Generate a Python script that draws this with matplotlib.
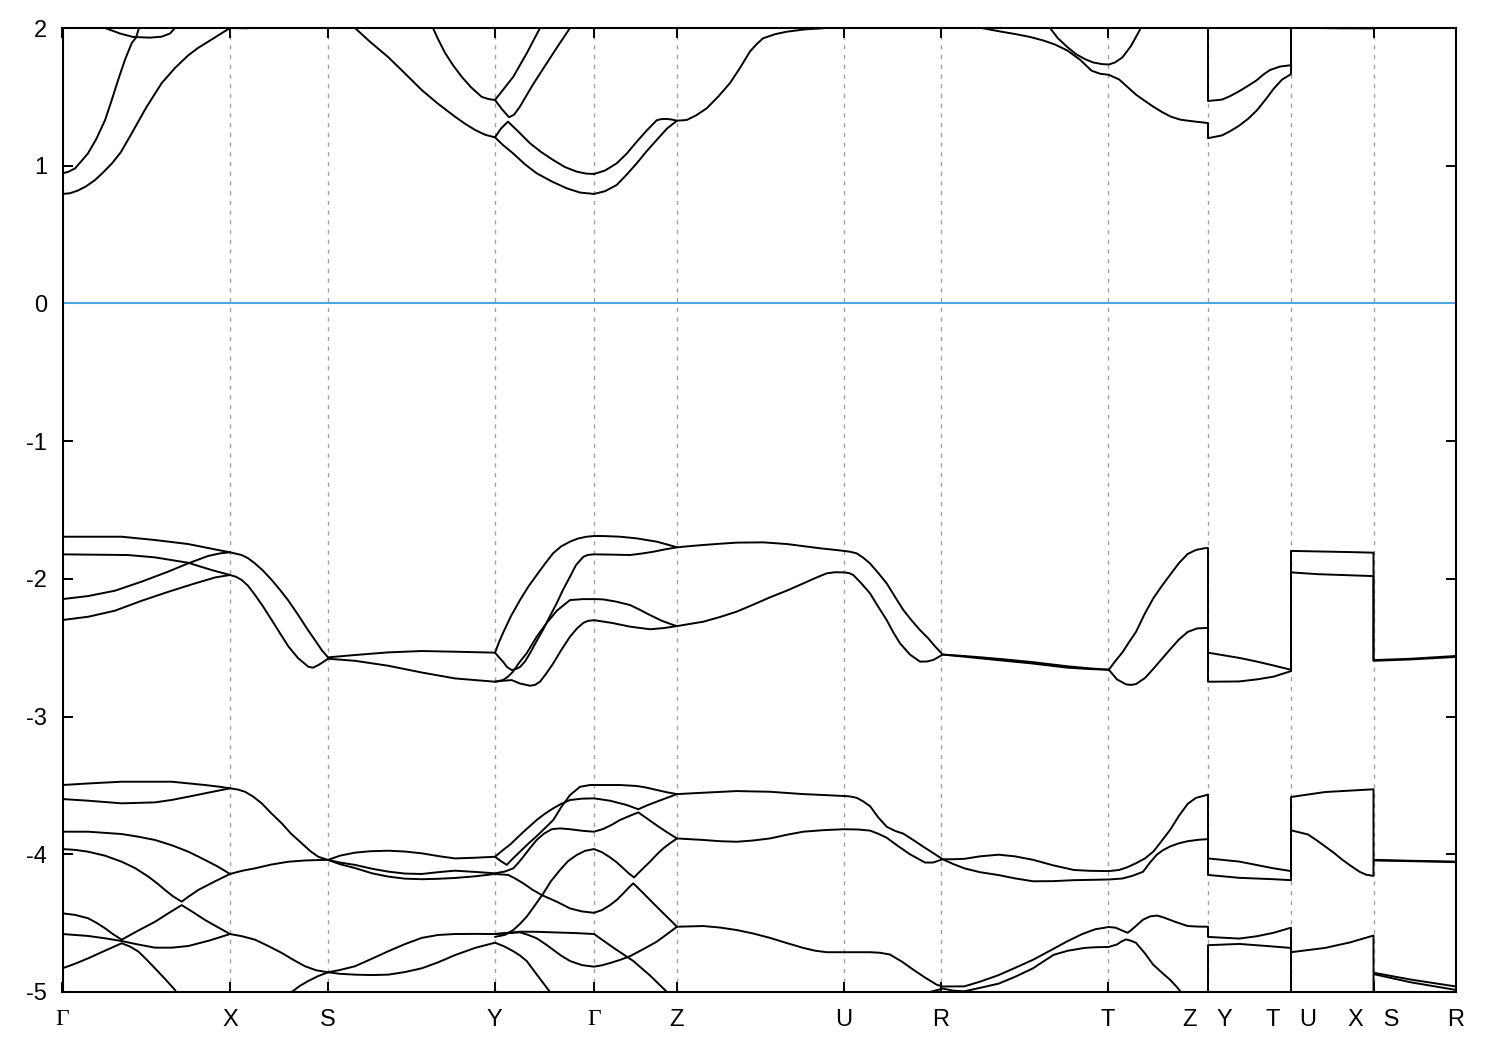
import matplotlib
matplotlib.use("Agg")
import matplotlib.pyplot as plt
import numpy as np

plt.rcParams['font.family'] = ['Liberation Sans', 'DejaVu Sans']
plt.rcParams['axes.unicode_minus'] = False

# ---------------- data ----------------
# high-symmetry points along the k-path (path coordinate, arbitrary units)
kpt_pos = [62.5, 230, 328, 494.5, 594, 677, 844, 941, 1108, 1208, 1291, 1373.5, 1456]
kpt_labels = ['Γ', 'X', 'S', 'Y', 'Γ', 'Z', 'U', 'R', 'T', 'Z   Y', 'T   U', 'X   S', 'R']
e_ticks = [-5, -4, -3, -2, -1, 0, 1, 2]
e_range = (-5, 2)

# conduction bands (k, E in eV)
cb1 = [(62.5,0.795),(70,0.80),(78,0.82),(86,0.85),(95,0.896),(103,0.95),(112,1.017),(121,1.10),(131.7,1.235),
       (146,1.42),(161.7,1.60),(175,1.71),(188,1.80),(198,1.855),(208,1.90),(219,1.95),(230,2.0),
       (248,1.998),(262,2.03),(300,2.10),(328,2.12),(345,2.05),(355,2.0),(370,1.90),(388,1.79),(405,1.67),
       (421.7,1.55),(438,1.45),(455,1.356),(465,1.305),(475,1.26),(485,1.225),(495,1.206),(503,1.15),(513,1.09),
       (525,1.01),(536.7,0.945),(552,0.885),(566.7,0.836),(580,0.805),(594,0.795),(605,0.815),
       (616.7,0.86),(626,0.93),(636.7,1.017),(646,1.10),(656.7,1.187),(667,1.27),(677,1.327),(686.7,1.332),
       (696,1.365),(706.7,1.417),(718,1.50),(730,1.60),(740,1.71),(750,1.83),(757,1.885),(763,1.925),
       (775,1.955),(786.7,1.973),(805,1.99),(823,1.998),(844,2.03),(900,2.1),(942.7,2.08),(970,2.03),(981.6,2.0),
       (1000,1.975),(1016,1.955),(1030,1.935),(1043,1.91),(1055,1.88),(1067.5,1.836),(1080,1.77),(1091.6,1.69),
       (1100,1.668),(1108.8,1.66),(1119,1.627),(1127,1.575),(1136,1.516),(1145,1.47),
       (1153,1.43),(1162,1.39),(1170.6,1.357),(1180,1.335),(1187.8,1.327),(1198,1.318),(1208,1.31),(1208,1.2),
       (1222,1.22),(1230,1.25),(1239,1.29),(1248,1.34),(1256.6,1.40),(1265,1.475),
       (1273.8,1.56),(1282,1.625),(1291,1.665),(1291,2.05),(1315,2.0),(1340,1.998),(1373.5,1.997),(1373.5,2.2),
       (1456,2.2)]
cb2 = [(62.5,0.945),(68,0.955),(75,0.98),(81,1.03),(88,1.09),(96,1.19),(105,1.33),(111,1.46),(118,1.62),
       (125,1.77),(131.7,1.89),(136,1.93),(139,2.0),(145,2.12)]
cb3 = [(62.5,2.15),(90,2.07),(105,2.0),(120,1.96),(133,1.935),(150,1.93),(161.7,1.937),(170,1.96),(175,2.0),
       (185,2.08)]
cb4 = [(400,2.15),(420,2.06),(433,2.0),(438,1.92),(445,1.82),(453,1.73),(461.7,1.646),(471,1.57),(481.7,1.50),
       (488,1.485),(495,1.477),(502,1.41),(509,1.352),(514,1.37),(520,1.43),(533,1.59),
       (546.7,1.744),(558,1.87),(570,2.0),(580,2.1)]
cb5 = [(495,1.206),(501,1.27),(508,1.32),(518,1.25),(530,1.163),(541,1.10),(553.3,1.041),(565,0.99),
       (576.7,0.957),(586,0.943),(594,0.94),(605,0.965),(616.7,1.017),(627,1.09),(636.7,1.174),(646,1.25),
       (656.7,1.33),(661,1.338),(666.7,1.34),(672,1.335),(677,1.327)]
cb6 = [(495,1.477),(504,1.56),(513.3,1.646),(527,1.82),(540,2.0),(548,2.1)]
cb7 = [(1030,2.15),(1050,2.0),(1058,1.925),(1067.5,1.861),(1076,1.81),(1084.7,1.775),(1093,1.75),
       (1101.9,1.738),(1108.8,1.735),(1115,1.75),(1122.5,1.787),(1131,1.87),
       (1139.7,1.984),(1145,2.1),(1208,2.3),(1208,1.47),(1222,1.48),(1230,1.505),(1239,1.54),(1248,1.58),
       (1256.6,1.62),(1263,1.66),(1270,1.695),(1280,1.72),(1291,1.73),(1291,2.3)]

# upper valence manifold
vb1 = [(62.5,-1.694),(121.7,-1.694),(155,-1.718),(188,-1.747),(215,-1.786),(230,-1.807),(241.7,-1.827),
       (248,-1.85),(255,-1.888),(263,-1.94),(271.7,-2.008),(280,-2.08),(288,-2.154),(298,-2.26),(308,-2.372),
       (315,-2.445),(321.7,-2.517),(328,-2.57),(355,-2.553),
       (388,-2.534),(421.7,-2.524),(455,-2.529),(495,-2.536),(499,-2.46),(503,-2.393),(511,-2.27),(520,-2.154),
       (528,-2.06),(536.7,-1.972),(545,-1.89),(553,-1.815),(561,-1.765),(570,-1.73),(578,-1.707),(586.7,-1.694),
       (594,-1.689),(603,-1.689),(620,-1.694),(636.7,-1.706),(656.7,-1.73),(667,-1.75),
       (677,-1.771),(690,-1.762),(703.3,-1.754),(720,-1.745),(736.7,-1.737),(763.3,-1.735),(786.7,-1.747),
       (803,-1.762),(820,-1.778),(833,-1.788),(844,-1.797),
       (850,-1.803),(856.7,-1.815),(863,-1.845),(870,-1.888),(878,-1.955),(886.7,-2.033),(895,-2.13),
       (903.3,-2.226),(912,-2.305),(920,-2.372),(928,-2.43),(935,-2.49),(942.7,-2.55),(960,-2.558),
       (981.5,-2.57),(1005,-2.585),(1033,-2.605),(1067.5,-2.635),(1090,-2.65),(1108.8,-2.66),(1115,-2.6),
       (1122.5,-2.533),(1129,-2.46),(1136,-2.385),(1145,-2.25),(1153.4,-2.14),(1162,-2.05),
       (1170.6,-1.966),(1179,-1.885),(1187.7,-1.819),(1196,-1.79),(1205,-1.777),(1208,-1.776),(1208,-2.536),
       (1222,-2.553),(1240,-2.575),(1256.5,-2.60),(1274,-2.63),(1291,-2.66),(1291,-1.797),(1352.7,-1.806),
       (1373.5,-1.81),(1373.5,-2.59),(1411,-2.58),(1456,-2.56)]
vb2 = [(62.5,-1.822),(128,-1.827),(155,-1.844),(188,-1.883),(211.7,-1.936),(230,-1.972),(236,-1.985),
       (241.7,-2.008),(248,-2.05),(255,-2.117),(263,-2.2),(271.7,-2.299),(280,-2.395),(288.3,-2.49),
       (298,-2.575),(308.3,-2.638),(313,-2.645),(318.3,-2.626),(323,-2.605),(328,-2.58),(355,-2.595),
       (388.3,-2.631),(421.7,-2.68),(455,-2.723),(495,-2.747),(503,-2.74),(511.7,-2.735),(520,-2.76),
       (530,-2.776),(535,-2.77),(540,-2.747),(546,-2.69),(553.3,-2.613),(561,-2.52),(570,-2.42),(577,-2.36),
       (583.3,-2.32),(588,-2.305),(594,-2.30),(612,-2.32),(630,-2.347),(650,-2.366),(663,-2.358),
       (677,-2.343),(703.3,-2.311),(720,-2.277),(736.7,-2.238),(753,-2.188),(770,-2.134),(787,-2.085),
       (803.3,-2.033),(815,-1.995),(826.7,-1.96),(835,-1.952),(844,-1.953),(849,-1.958),
       (853.3,-1.972),(861,-2.03),(870,-2.105),(878,-2.2),(886.7,-2.299),(893,-2.385),(900,-2.468),
       (910,-2.55),(920,-2.601),(927,-2.6),(933.3,-2.589),(942.7,-2.55),
       (960,-2.562),(981.5,-2.578),(1005,-2.595),(1033,-2.615),(1067.5,-2.645),(1090,-2.655),(1108.8,-2.66),
       (1117,-2.73),(1126,-2.766),(1131,-2.77),(1136,-2.764),(1145,-2.72),
       (1153,-2.656),(1162,-2.58),(1170.6,-2.508),(1179,-2.44),(1187.8,-2.385),(1197,-2.36),(1208,-2.356),
       (1208,-2.747),(1239,-2.745),(1257,-2.73),
       (1273.6,-2.71),(1291,-2.67),(1291,-1.953),(1318,-1.966),(1373.5,-1.98),(1373.5,-2.595),
       (1411,-2.585),(1456,-2.567)]
vb3 = [(62.5,-2.147),(88,-2.125),(115,-2.086),(141.7,-2.02),(168,-1.948),(188,-1.888),(208,-1.834),
       (220,-1.815),(230,-1.807)]
vb4 = [(62.5,-2.299),(88.3,-2.275),(115,-2.231),(141.7,-2.159),(168.3,-2.094),(195,-2.033),(215,-1.99),
       (230,-1.972)]
vb5 = [(495,-2.536),(499,-2.57),(503,-2.601),(507,-2.64),(511.7,-2.662),(516,-2.655),(520,-2.64),(525,-2.6),
       (530,-2.54),(536,-2.46),(543,-2.37),(550,-2.27),(556.7,-2.177),(563,-2.08),(570,-1.984),(576,-1.9),
       (583.3,-1.84),(588,-1.826),(594,-1.822),(612,-1.824),(630,-1.827),(643,-1.815),(653.3,-1.803),
       (665,-1.786),(677,-1.771)]
vb6 = [(495,-2.747),(503,-2.735),(508,-2.71),(513,-2.674),(519,-2.61),(526.7,-2.54),(536.7,-2.42),
       (546.7,-2.32),(557,-2.23),(570,-2.154),(583,-2.147),(594,-2.147),
       (603,-2.149),(616,-2.165),(630,-2.19),(640,-2.225),(650,-2.263),(662,-2.305),(673.3,-2.335),(677,-2.343)]

# lower valence manifold
wb1 = [(62.5,-3.497),(90,-3.485),(121.7,-3.473),(171.7,-3.473),(205,-3.497),(220,-3.51),(230,-3.521),
       (238,-3.53),(245,-3.546),(253,-3.58),(261.7,-3.63),(271,-3.70),
       (281.7,-3.775),(291,-3.85),(301.7,-3.92),(310,-3.975),(318.3,-4.018),(328,-4.041),(340,-4.01),
       (355,-3.988),(370,-3.978),(388.3,-3.974),(405,-3.98),(421.7,-3.993),
       (440,-4.015),(455,-4.03),(475,-4.025),(495,-4.018),(500,-4.045),(506.7,-4.077),(513,-4.03),(520,-3.981),
       (528,-3.925),(536.7,-3.868),(545,-3.81),(553.3,-3.751),(561,-3.66),(570,-3.57),
       (580,-3.51),(590,-3.497),(594,-3.497),(620,-3.497),(636.7,-3.504),(646,-3.515),(656.7,-3.533),
       (667,-3.55),(677,-3.563),
       (703.3,-3.553),(736.7,-3.541),(770,-3.546),(803.3,-3.563),(825,-3.57),(844,-3.577),(850,-3.58),
       (856.7,-3.59),(863,-3.615),(870,-3.65),(878,-3.73),
       (886.7,-3.80),(895,-3.83),(903.3,-3.85),(913,-3.895),(923.3,-3.945),(933,-3.99),(942.7,-4.036),
       (953,-4.036),(964.4,-4.033),(980,-4.015),(998.7,-4.003),(1015,-4.015),(1033,-4.04),(1053,-4.08),
       (1074,-4.114),(1090,-4.12),(1108.7,-4.122),(1119,-4.114),(1127,-4.095),(1136,-4.065),(1145,-4.03),
       (1153.4,-3.98),(1162,-3.90),(1170.5,-3.819),(1179,-3.72),
       (1187.7,-3.634),(1196,-3.59),(1205,-3.573),(1208,-3.566),(1208,-4.03),(1239.3,-4.053),(1273.6,-4.102),
       (1291,-4.122),(1291,-3.584),(1325,-3.548),(1373.5,-3.528),(1373.5,-4.04),(1411,-4.047),(1456,-4.053)]
wb2 = [(62.5,-3.599),(88.3,-3.611),(121.7,-3.63),(155,-3.623),(172,-3.605),(188.3,-3.582),(210,-3.55),
       (230,-3.521)]
wb3 = [(62.5,-3.836),(88.3,-3.836),(121.7,-3.853),(138,-3.872),(155,-3.896),(172,-3.935),(188.3,-3.981),
       (205,-4.041),(218,-4.09),(230,-4.143),
       (242,-4.12),(255,-4.102),(271,-4.075),(288.3,-4.054),(305,-4.045),(321.7,-4.041),(328,-4.041),
       (340,-4.06),(355,-4.077),(372,-4.105),(388.3,-4.126),(405,-4.14),(421.7,-4.143),
       (438,-4.13),(455,-4.119),(475,-4.128),(495,-4.138),(505,-4.125),(513.3,-4.102),(518,-4.065),
       (523.3,-4.018),(530,-3.955),(536.7,-3.896),(544,-3.85),(551.7,-3.818),(560,-3.812),(570,-3.818),
       (583,-3.83),(594,-3.836),(603.3,-3.816),(612,-3.785),(620,-3.751),(630,-3.72),(638.3,-3.696),
       (647,-3.74),(656.7,-3.79),(667,-3.84),(677,-3.885),(703.3,-3.896),
       (720,-3.905),(736.7,-3.909),(753,-3.9),(770,-3.885),(787,-3.858),(803.3,-3.836),(823,-3.825),
       (844,-3.818),(858,-3.82),(870,-3.828),(878,-3.85),(886.7,-3.88),(898,-3.94),(910,-4.0),
       (925,-4.06),(933,-4.06),(942.7,-4.036),(953,-4.07),(964.4,-4.102),(980,-4.13),(998.7,-4.151),
       (1015,-4.175),(1033,-4.196),(1053,-4.195),(1074,-4.188),(1108.7,-4.183),
       (1122.4,-4.176),(1133,-4.155),(1143,-4.127),(1150,-4.06),(1156.8,-4.003),(1163,-3.97),(1170.5,-3.942),
       (1179,-3.92),(1187.7,-3.905),(1198,-3.895),(1208,-3.89),
       (1208,-4.15),(1239.3,-4.171),(1273.6,-4.181),(1291,-4.188),(1291,-3.826),(1308,-3.856),(1316,-3.895),
       (1325,-3.942),(1334,-3.99),
       (1342.4,-4.04),(1351,-4.085),(1359.6,-4.127),(1366,-4.148),(1373.5,-4.157),(1373.5,-4.045),
       (1411,-4.05),(1456,-4.057)]
wb4 = [(62.5,-3.962),(75,-3.968),(88,-3.981),(105,-4.01),(121.7,-4.054),(135,-4.10),(148.3,-4.162),
       (157,-4.21),(165,-4.259),(173,-4.305),(181.7,-4.344),(188,-4.31),(198.3,-4.259),(214,-4.2),(230,-4.143)]
wb5 = [(328,-4.041),(340,-4.072),(355,-4.10),(372,-4.138),(388.3,-4.162),(405,-4.177),(421.7,-4.181),
       (438,-4.178),(455,-4.172),(475,-4.16),(495,-4.143),(508.3,-4.15),(515,-4.175),
       (523.3,-4.211),(532,-4.255),(541.7,-4.296),(556.7,-4.344),(570,-4.393),(582,-4.415),(594,-4.425),
       (602,-4.405),(610,-4.369),(617,-4.33),(623.3,-4.284),(629,-4.24),
       (633.3,-4.211),(643,-4.28),(653.3,-4.356),(665,-4.44),(677,-4.526),(703.3,-4.521),(720,-4.532),
       (736.7,-4.55),(753,-4.575),(770,-4.607),(787,-4.645),(803.3,-4.68),(815,-4.7),
       (826.7,-4.711),(844,-4.711),(870,-4.711),(880,-4.715),(890,-4.728),(902,-4.78),(913.3,-4.838),
       (925,-4.895),(936.7,-4.947),(942.7,-4.96),
       (964.4,-4.959),(980,-4.925),(998.7,-4.877),(1015,-4.825),(1033,-4.766),(1050,-4.70),(1067.5,-4.631),
       (1082,-4.58),(1095,-4.545),(1108.7,-4.528),
       (1115.6,-4.533),(1121,-4.55),(1127.6,-4.57),(1131,-4.552),(1136,-4.52),(1143,-4.475),(1150,-4.451),
       (1157,-4.445),(1163.7,-4.459),(1175,-4.49),(1187.7,-4.521),(1198,-4.525),
       (1208,-4.526),(1208,-4.60),(1239.3,-4.612),(1257,-4.595),(1273.6,-4.57),(1291,-4.533),(1291,-4.711),
       (1325,-4.68),(1350,-4.64),(1373.5,-4.59),(1373.5,-4.86),(1411,-4.91),(1456,-4.96)]
wb6 = [(495,-4.018),(502,-3.975),(510,-3.93),(523,-3.84),(536.7,-3.751),(545,-3.705),(553.3,-3.666),
       (561,-3.635),(570,-3.606),(582,-3.596),(594,-3.594),(610,-3.611),
       (626.7,-3.642),(638.3,-3.673),(647,-3.645),(656.7,-3.618),(667,-3.59),(677,-3.563)]
wb7 = [(495,-4.60),(505,-4.585),(513.3,-4.55),(520,-4.505),(526.7,-4.453),(535,-4.37),(543.3,-4.284),
       (551,-4.195),(560,-4.114),(568,-4.05),(576.7,-4.005),(585,-3.975),(594,-3.962),
       (602,-3.985),(610,-4.022),(617,-4.06),(623.3,-4.102),(629,-4.14),(634,-4.168),(642,-4.11),
       (650,-4.054),(657,-4.0),(663.3,-3.957),(670,-3.92),(677,-3.885)]
wb8 = [(62.5,-4.429),(75,-4.44),(88.3,-4.465),(97,-4.5),(105,-4.537),(113,-4.58),(121.7,-4.62),(138,-4.555),
       (155,-4.49),(168,-4.43),(181.7,-4.369),(193,-4.42),(205,-4.477),(218,-4.53),
       (230,-4.579),(242,-4.595),(255,-4.62),(268,-4.665),(281.7,-4.716),(293,-4.765),(305,-4.813),
       (316,-4.842),(328,-4.857),(340,-4.84),(355,-4.813),(372,-4.758),(388.3,-4.704),(405,-4.652),
       (421.7,-4.607),(438,-4.586),(455,-4.579),(475,-4.578),(495,-4.579),(520,-4.562),(537,-4.563),
       (553.3,-4.567),(575,-4.572),(594,-4.579),(603,-4.625),
       (613.3,-4.678),(623,-4.725),(633.3,-4.775),(650,-4.88),(666.7,-4.998),(672,-5.05)]
wb9 = [(62.5,-4.579),(88,-4.593),(105,-4.61),(121.7,-4.63),(138,-4.655),(155,-4.678),(172,-4.678),
       (188.3,-4.666),(210,-4.625),(230,-4.579)]
wb10 = [(62.5,-4.828),(75,-4.795),(88.3,-4.755),(105,-4.7),(121.7,-4.646),(130,-4.67),(138.3,-4.706),
        (146,-4.76),(155,-4.828),(165,-4.905),(175,-4.985),(179,-5.05)]
wb11 = [(285,-5.05),(291.7,-5.0),(300,-4.955),(308.3,-4.92),(318,-4.885),(328,-4.857),(340,-4.868),
        (355,-4.874),(372,-4.877),(388.3,-4.874),(405,-4.855),(421.7,-4.828),(438,-4.785),
        (455,-4.732),(475,-4.68),(495,-4.642),(504,-4.668),(513.3,-4.704),(520,-4.735),(526.7,-4.775),
        (538,-4.885),(550,-5.0),(554,-5.05)]
wb12 = [(495,-4.579),(510,-4.572),(520,-4.567),(528,-4.585),(536.7,-4.61),(545,-4.65),(553.3,-4.694),
        (561,-4.735),(570,-4.775),(582,-4.805),(594,-4.816),(602,-4.806),(610,-4.79),(620,-4.767),
        (630,-4.74),(643,-4.69),(656.7,-4.635),(667,-4.58),(677,-4.526)]
wb13 = [(920,-5.05),(930,-5.0),(942.7,-4.975),(953,-4.99),(964.4,-4.995),(980,-4.97),(998.7,-4.939),
        (1015,-4.89),(1033,-4.828),(1043,-4.78),(1053.7,-4.73),(1068,-4.7),
        (1084.6,-4.68),(1095,-4.675),(1108.7,-4.673),(1117,-4.655),(1121,-4.635),(1126,-4.618),(1131,-4.628),
        (1136,-4.643),(1145,-4.72),(1153,-4.80),(1162,-4.86),
        (1170.5,-4.914),(1177,-4.965),(1184.3,-5.03)]
wb14 = [(1208,-5.3),(1208,-4.66),(1239.3,-4.651),(1265,-4.665),(1291,-4.68),(1291,-5.3)]
wb15 = [(1373.5,-5.3),(1373.5,-4.87),(1411,-4.93),(1456,-4.985)]

bands = [cb1, cb2, cb3, cb4, cb5, cb6, cb7,
         vb1, vb2, vb3, vb4, vb5, vb6,
         wb1, wb2, wb3, wb4, wb5, wb6, wb7, wb8, wb9, wb10, wb11, wb12, wb13, wb14, wb15]

# ---------------- plot ----------------
fig = plt.figure(figsize=(15, 10.5), dpi=100)
ax = fig.add_axes([62.5/1500, 58/1050, (1456-62.5)/1500, (992-28)/1050])

for xv in kpt_pos[1:-1]:
    ax.axvline(xv, color='#a0a0a0', lw=1.0, ls=(0, (3, 4)), zorder=1)
ax.axhline(0, color='#4aa8dc', lw=1.5, zorder=2)

for b in bands:
    arr = np.array(b)
    ax.plot(arr[:, 0], arr[:, 1], color='black', lw=1.4, zorder=3,
            solid_joinstyle='round', solid_capstyle='round')

ax.set_xlim(kpt_pos[0], kpt_pos[-1])
ax.set_ylim(*e_range)
ax.set_xticks(kpt_pos)
ax.set_xticklabels(kpt_labels)
for lab in ax.get_xticklabels():
    if lab.get_text() == 'Γ':
        lab.set_fontfamily(['Liberation Serif', 'DejaVu Serif'])
        lab.set_fontsize(19)
ax.set_yticks(e_ticks)
ax.set_yticklabels([str(v) for v in e_ticks])

ax.tick_params(axis='both', direction='in', length=7, width=1.4, labelsize=17,
               top=True, right=True, colors='black')
ax.tick_params(axis='x', pad=12)
ax.tick_params(axis='y', pad=11)
for sp in ax.spines.values():
    sp.set_linewidth(1.5)

fig.savefig('out.png', dpi=100)
